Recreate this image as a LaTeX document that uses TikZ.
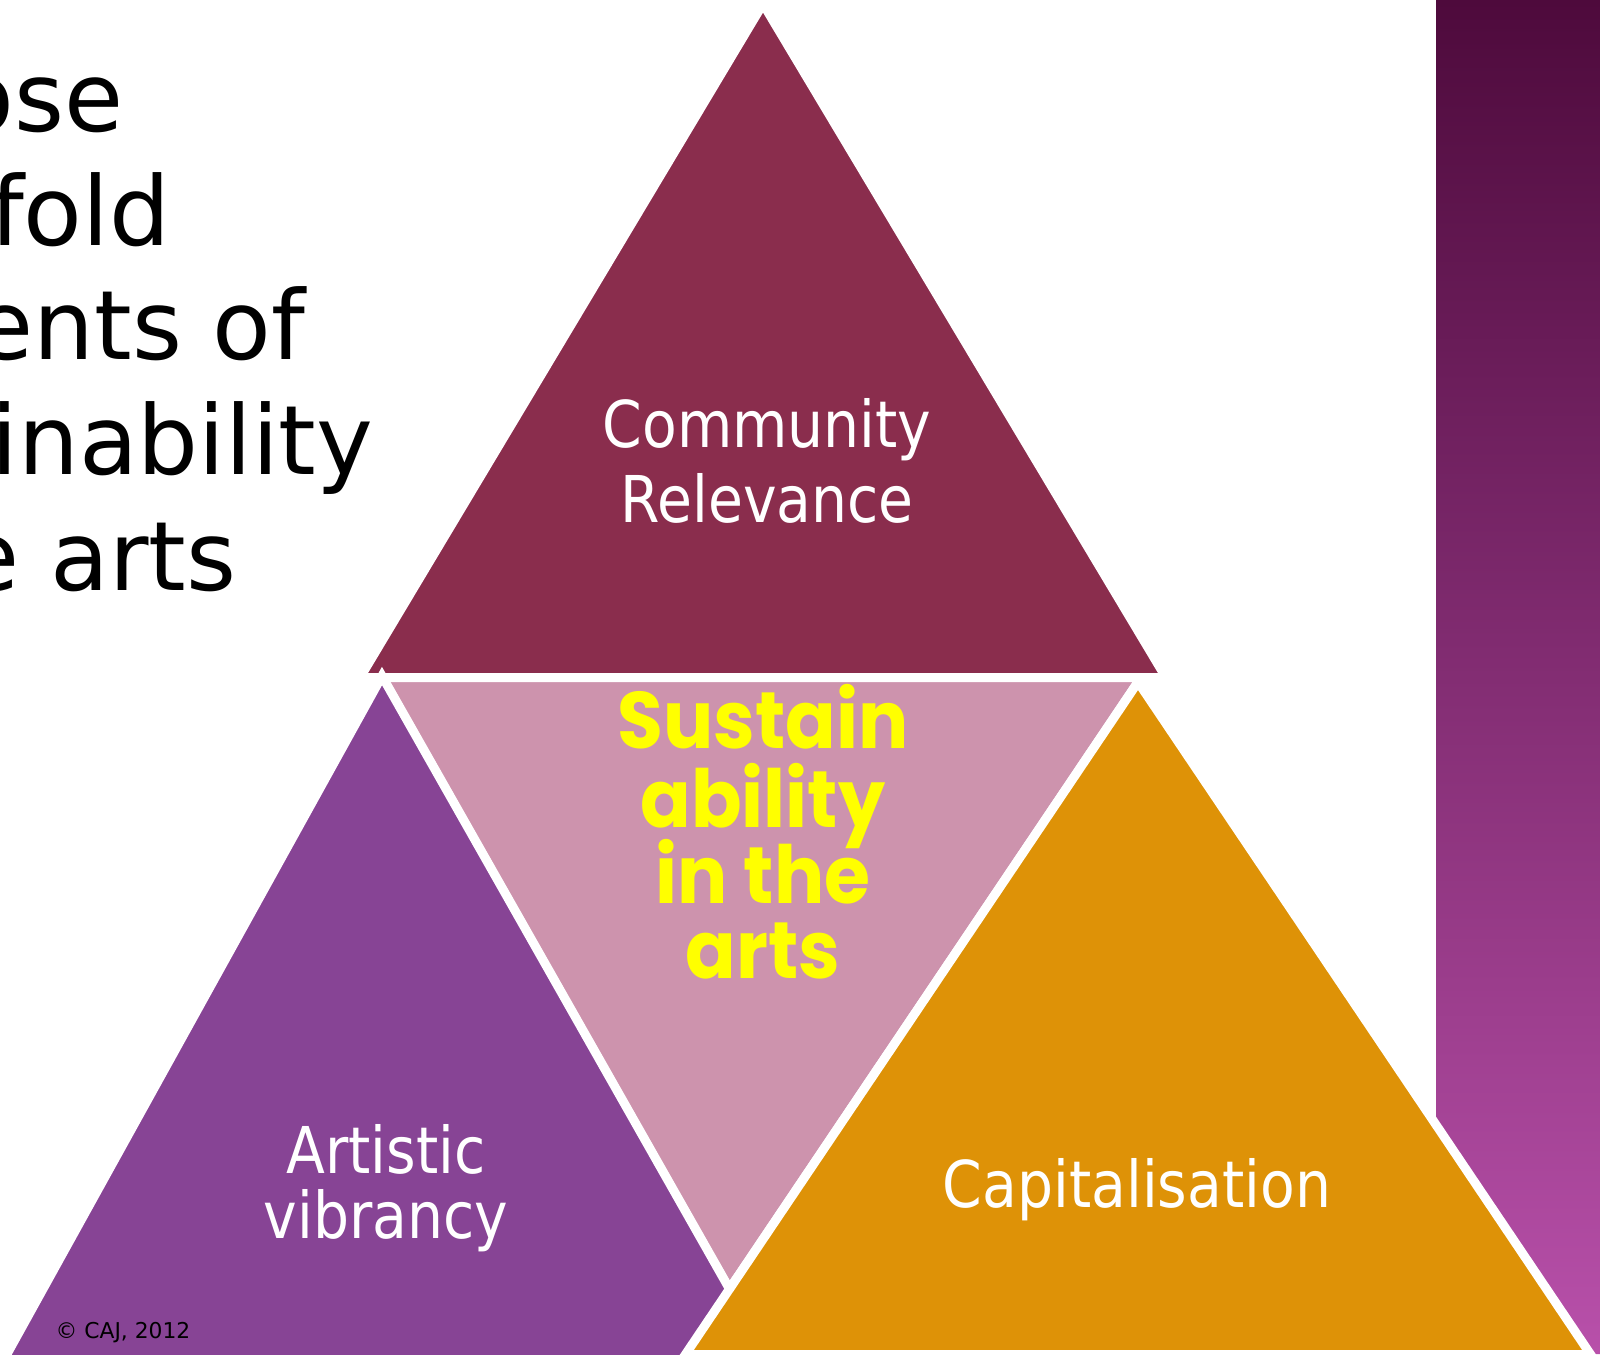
\documentclass[tikz,border=0pt]{standalone}
\usepackage{fontspec}
\setmainfont{DejaVu Sans}
\newfontfamily\labelfont[FakeStretch=0.88]{DejaVu Sans}
\newfontfamily\corefont[FakeStretch=0.93]{Poppins}
\definecolor{maroonT}{RGB}{138,45,77}
\definecolor{pinkT}{RGB}{205,147,173}
\definecolor{purpleT}{RGB}{135,68,149}
\definecolor{orangeT}{RGB}{222,146,7}
\definecolor{panelTop}{RGB}{78,10,60}
\definecolor{panelMid}{RGB}{126,44,108}
\definecolor{panelBot}{RGB}{184,80,170}
\definecolor{coreYellow}{RGB}{255,255,0}
\begin{document}
\begin{tikzpicture}[x=0.01cm,y=-0.01cm,
  tri/.style={draw=white, line width=2.56pt, line join=miter},
  bigtext/.style={inner sep=0pt, anchor=base east, text=black, font=\fontsize{27.3}{32}\selectfont},
  tlabel/.style={inner sep=0pt, anchor=base, text=white, font=\labelfont\fontsize{18.35}{22}\selectfont},
  coretext/.style={inner sep=0pt, anchor=base, text=coreYellow, font=\corefont\bfseries\fontsize{22.8}{24}\selectfont},
  copy/.style={inner sep=0pt, anchor=base west, text=black, font=\fontsize{6.2}{7}\selectfont}]
\useasboundingbox (0,0) rectangle (1600,1354);
\begin{scope}
\clip (0,0) rectangle (1600,1354);
\fill[white] (0,0) rectangle (1600,1354);
% right panel
\shade[top color=panelTop, middle color=panelMid, bottom color=panelBot]
  (1436,0) -- (1600,0) -- (1600,1354) -- (1594,1354) -- (1436,1119) -- cycle;
% triangles
\path[tri, fill=maroonT] (763,3.8) -- (360.1,677.5) -- (1165.9,677.5) -- cycle;
\path[tri, fill=pinkT] (382.3,677.5) -- (1141,677.5) -- (729.2,1289.4) -- cycle;
\path[tri, fill=purpleT] (382,676) -- (3.7,1360) -- (769.8,1360) -- cycle;
\path[tri, fill=orangeT] (1138,682) -- (685.4,1354.5) -- (1590.6,1354.5) -- cycle;
% left title text (clipped at the left edge, as in the reference)
\node[bigtext] (t1) at (124.5,131) {ose};
\node[bigtext] (t2) at (171,245) {fold};
\node[bigtext] (t3) at (306,359) {ents of};
\node[bigtext] (t4) at (374,474) {inability};
\node[bigtext] (t5) at (237,590) {e arts};
\end{scope}
% triangle labels
\node[tlabel] (cr1) at (767,447) {Community};
\node[tlabel] (cr2) at (767,522) {Relevance};
\node[tlabel] (av1) at (386,1173) {Artistic};
\node[tlabel] (av2) at (386,1238) {vibrancy};
\node[tlabel] (cap) at (1137,1207) {Capitalisation};
% centre
\node[coretext] (c1) at (763,748) {Sustain};
\node[coretext] (c2) at (763,827) {ability};
\node[coretext] (c3) at (763,903) {in the};
\node[coretext] (c4) at (763,978) {arts};
% copyright
\node[copy] (cp) at (55,1338) {© CAJ, 2012};
\end{tikzpicture}
\end{document}
